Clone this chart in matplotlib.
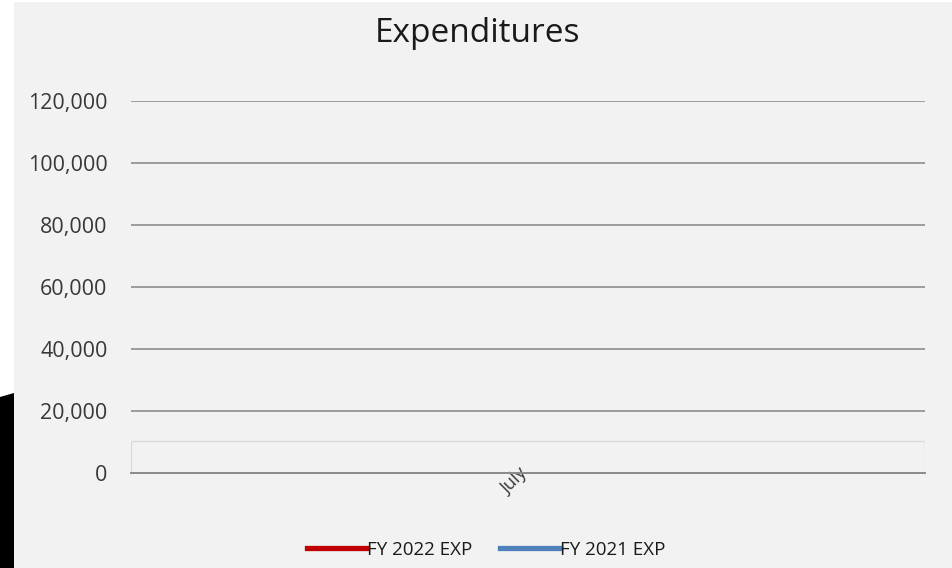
import numpy as np
import matplotlib.pyplot as plt
import matplotlib.transforms as mtransforms
from matplotlib.patches import Rectangle, Polygon
from matplotlib.ticker import FuncFormatter

# Datos del grafico (las series estan vacias en la imagen original)
meses = ["July"]
fy2022_exp = [np.nan]
fy2021_exp = [np.nan]
y_ticks = [0, 20000, 40000, 60000, 80000, 100000, 120000]

COLOR_BG = "#F2F2F2"
COLOR_TEXT = "#383838"
COLOR_GRID = "#8C8C8C"

plt.rcParams["font.family"] = ["Open Sans", "DejaVu Sans"]

fig = plt.figure(figsize=(9.53, 5.68), dpi=100)
fig.patch.set_facecolor("white")

# fondo gris del area del grafico y la forma negra de la izquierda
fig.patches.append(Rectangle((14 / 953, 0), 1 - 14 / 953, 1 - 2 / 568,
                             transform=fig.transFigure, facecolor=COLOR_BG,
                             edgecolor="none", zorder=-10))
fig.patches.append(Polygon([(0, 1 - 397 / 568), (14 / 953, 1 - 393 / 568),
                            (14 / 953, 0), (0, 0)], closed=True,
                           transform=fig.transFigure, facecolor="black",
                           edgecolor="none", zorder=-9))

ax = fig.add_axes([131 / 953, 1 - 473 / 568, (925 - 131) / 953, 372 / 568])
ax.set_facecolor("none")

x = np.arange(len(meses))
ax.plot(x, fy2022_exp, color="#C00000", linewidth=3.8, label="FY 2022 EXP")
ax.plot(x, fy2021_exp, color="#4F81BD", linewidth=3.8, label="FY 2021 EXP")

ax.set_xlim(-0.5, len(meses) - 0.5)
ax.set_ylim(0, 120000)
ax.set_yticks(y_ticks)
ax.yaxis.set_major_formatter(FuncFormatter(lambda v, p: f"{int(v):,}"))
ax.set_xticks(x)
ax.set_xticklabels(meses, rotation=45, ha="right", va="top",
                   rotation_mode="anchor", fontsize=13, color=COLOR_TEXT)

ax.grid(axis="y", color=COLOR_GRID, linewidth=1.2)
ax.set_axisbelow(True)
for s in ["top", "right", "left"]:
    ax.spines[s].set_visible(False)
ax.spines["bottom"].set_color(COLOR_GRID)
ax.spines["bottom"].set_linewidth(1.4)
ax.tick_params(axis="both", length=0, colors=COLOR_TEXT)
ax.tick_params(axis="y", labelsize=15.5, pad=17)
ax.tick_params(axis="x", pad=0)

# la etiqueta July queda un poco a la izquierda y encima del eje
desplaza = mtransforms.ScaledTranslation(-10 / 100, 8 / 100, fig.dpi_scale_trans)
for lbl in ax.get_xticklabels():
    lbl.set_transform(lbl.get_transform() + desplaza)

# recuadro claro cerca del eje
ax.add_patch(Rectangle((0, 0), 1, 32 / 372, transform=ax.transAxes,
                       fill=False, edgecolor="#DADADA", linewidth=1, zorder=1))

fig.text(478 / 953, 1 - 34 / 568, "Expenditures", ha="center", va="center",
         fontsize=24, color="#1A1A1A")

fig.legend(loc="center", bbox_to_anchor=(486 / 953, 1 - 550 / 568), ncol=2,
           frameon=False, fontsize=13.5, handlelength=3.2, handletextpad=0,
           columnspacing=1.5, labelcolor="#1A1A1A")

plt.savefig("out.png", dpi=100, facecolor="white")
